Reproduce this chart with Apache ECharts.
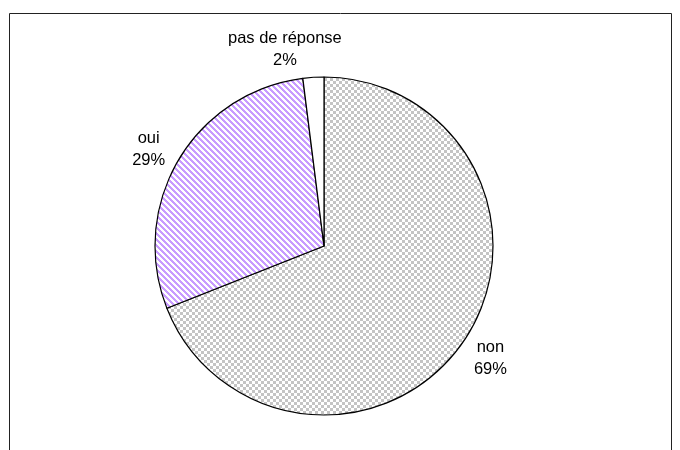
<!DOCTYPE html>
<html><head><meta charset="utf-8">
<script src="https://cdn.jsdelivr.net/npm/echarts@6/dist/echarts.min.js"></script>
<style>html,body{margin:0;padding:0;background:#fff}#c{width:680px;height:450px}</style>
</head><body><div id="c"></div>
<script>
const categories = ['non', 'oui', 'pas de réponse'];
const values = [69, 29, 2];
const percentLabels = ['69%', '29%', '2%'];

function checker() {
  const c = document.createElement('canvas');
  c.width = 6; c.height = 6;
  const g = c.getContext('2d');
  g.fillStyle = '#ffffff'; g.fillRect(0, 0, 6, 6);
  g.fillStyle = '#c4c4c4';
  g.fillRect(0, 0, 3, 3); g.fillRect(3, 3, 3, 3);
  return c;
}
function stripes() {
  const n = 6;
  const c = document.createElement('canvas');
  c.width = n; c.height = n;
  const g = c.getContext('2d');
  const img = g.createImageData(n, n);
  for (let y = 0; y < n; y++) for (let x = 0; x < n; x++) {
    const k = ((x - y) % n + n) % n;
    const i = (y * n + x) * 4;
    const purple = k < 3;
    img.data[i] = purple ? 0xc8 : 255;
    img.data[i + 1] = purple ? 0x9c : 255;
    img.data[i + 2] = purple ? 0xff : 255;
    img.data[i + 3] = 255;
  }
  g.putImageData(img, 0, 0);
  return c;
}
const fills = [
  { image: checker(), repeat: 'repeat' },
  { image: stripes(), repeat: 'repeat' },
  '#ffffff'
];
const labelOffsets = [[15, 13], [-18, -6], [-23, -20]];

const chart = echarts.init(document.getElementById('c'), null, { renderer: 'canvas' });
chart.setOption({
  animation: false,
  graphic: [{
    type: 'rect', shape: { x: 9.5, y: 13.5, width: 662, height: 500 },
    style: { fill: 'none', stroke: '#222', lineWidth: 1 }
  }],
  series: [{
    type: 'pie',
    center: [324, 246],
    radius: 169,
    startAngle: 90,
    clockwise: true,
    avoidLabelOverlap: false,
    data: categories.map((name, i) => ({
      name, value: values[i],
      itemStyle: { color: fills[i] }
    })),
    itemStyle: { borderColor: '#000', borderWidth: 1.2 },
    label: {
      show: true,
      position: 'outside',
      formatter: p => p.name + '\n' + percentLabels[p.dataIndex],
      fontFamily: 'Liberation Sans, Arial, sans-serif',
      fontSize: 16.5,
      lineHeight: 22,
      color: '#000',
      align: 'center'
    },
    labelLine: { show: false, length: 8, length2: 0 },
    labelLayout: p => ({ dx: labelOffsets[p.dataIndex][0], dy: labelOffsets[p.dataIndex][1], align: 'center' })
  }]
});
</script></body></html>
